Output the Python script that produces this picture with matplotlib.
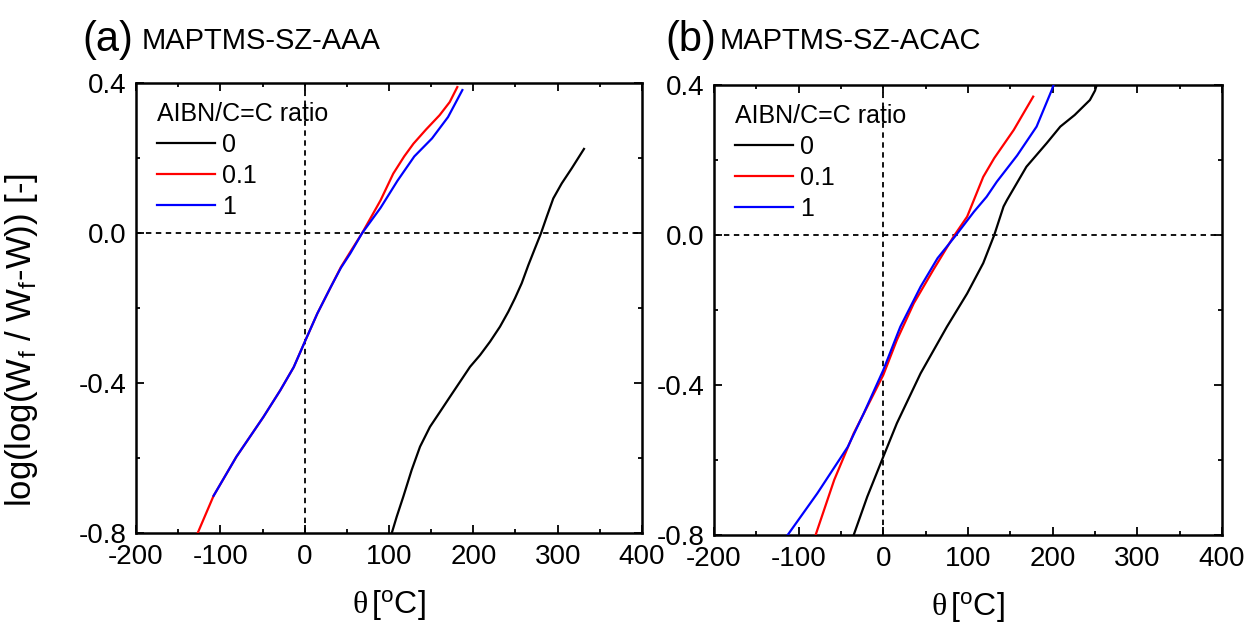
import matplotlib
matplotlib.use("Agg")
import matplotlib.pyplot as plt
from matplotlib.ticker import MultipleLocator, FormatStrFormatter

REG = ['Liberation Sans', 'DejaVu Sans']

plt.rcParams['font.family'] = REG
plt.rcParams['axes.unicode_minus'] = False
plt.rcParams['mathtext.fontset'] = 'custom'
plt.rcParams['mathtext.rm'] = 'Liberation Sans'
plt.rcParams['mathtext.it'] = 'Liberation Serif'
plt.rcParams['mathtext.default'] = 'rm'

# ---------------- data ----------------
panel_letters = ["(a)", "(b)"]
panel_names = ["MAPTMS-SZ-AAA", "MAPTMS-SZ-ACAC"]
legend_title = "AIBN/C=C ratio"
series_labels = ["0", "0.1", "1"]
series_colors = ["black", "red", "blue"]

# Panel (a)
a_r0_x = [103.2, 109.1, 117.0, 126.9, 136.8, 148.6, 160.5, 172.3, 184.2, 196.1,
          207.9, 219.8, 231.6, 241.5, 249.4, 257.4, 265.2, 273.1, 280.2, 287.0,
          294.8, 304.8, 316.6, 331.2]
a_r0_y = [-0.800, -0.756, -0.702, -0.631, -0.569, -0.516, -0.476, -0.436, -0.396,
          -0.356, -0.325, -0.289, -0.249, -0.209, -0.173, -0.133, -0.085, -0.040,
          0.000, 0.044, 0.093, 0.133, 0.173, 0.225]
a_r01_x = [-127, -108, -81, -49, -29, -13, 1, 15, 31, 43, 54, 68, 90, 105, 118,
           129, 144, 160, 172, 181]
a_r01_y = [-0.80, -0.70, -0.596, -0.49, -0.419, -0.357, -0.285, -0.214, -0.143,
           -0.090, -0.050, 0.0, 0.088, 0.159, 0.205, 0.239, 0.277, 0.315, 0.35, 0.39]
a_r1_x = [-108, -81, -49, -29, -13, 1, 15, 31, 43, 54, 68, 90, 110, 130, 151,
          170, 187]
a_r1_y = [-0.70, -0.596, -0.49, -0.419, -0.357, -0.285, -0.214, -0.143, -0.092,
          -0.054, 0.0, 0.068, 0.14, 0.205, 0.253, 0.31, 0.382]

# Panel (b)
b_r0_x = [-35, -19, 0, 16, 44, 75, 99, 118, 131, 142, 146, 169, 193, 209, 226,
          244, 250, 252]
b_r0_y = [-0.80, -0.698, -0.591, -0.502, -0.369, -0.245, -0.156, -0.075, 0.0,
          0.076, 0.093, 0.182, 0.245, 0.289, 0.32, 0.36, 0.385, 0.40]
b_r01_x = [-80, -58, -35, -15, 0, 16, 36, 59, 83, 99, 118, 131, 154, 177]
b_r01_y = [-0.80, -0.653, -0.529, -0.44, -0.373, -0.28, -0.182, -0.093, -0.004,
           0.049, 0.155, 0.205, 0.28, 0.369]
b_r1_x = [-113, -78, -42, -23, 0, 20, 44, 64, 86, 107, 122, 134, 158, 181, 199, 201]
b_r1_y = [-0.80, -0.689, -0.565, -0.475, -0.36, -0.245, -0.138, -0.062, 0.0,
          0.062, 0.102, 0.142, 0.212, 0.289, 0.387, 0.40]

panels = [
    [(a_r0_x, a_r0_y), (a_r01_x, a_r01_y), (a_r1_x, a_r1_y)],
    [(b_r0_x, b_r0_y), (b_r01_x, b_r01_y), (b_r1_x, b_r1_y)],
]

x_ticks = [-200, -100, 0, 100, 200, 300, 400]
y_ticks = [-0.8, -0.4, 0.0, 0.4]

# ---------------- figure ----------------
W, H = 1250, 631
fig = plt.figure(figsize=(W / 100, H / 100), dpi=100)

ax_rects = [
    [136 / W, 1 - 533.3 / H, 506 / W, 450 / H],
    [714 / W, 1 - 535 / H, 508 / W, 450 / H],
]
title_x = [(82, 142), (665, 720)]

for i, rect in enumerate(ax_rects):
    ax = fig.add_axes(rect)
    ax.axhline(0, color='black', lw=1.3, ls=(0, (3, 2.5)), zorder=1)
    ax.axvline(0, color='black', lw=1.3, ls=(0, (3, 2.5)), zorder=1)
    for (xs, ys), lab, col in zip(panels[i], series_labels, series_colors):
        ax.plot(xs, ys, color=col, lw=1.6, label=lab, zorder=3,
                solid_joinstyle='round')
    ax.set_xlim(-200, 400)
    ax.set_ylim(-0.8, 0.4)
    ax.set_xticks(x_ticks)
    ax.set_yticks(y_ticks)
    ax.xaxis.set_minor_locator(MultipleLocator(50))
    ax.yaxis.set_minor_locator(MultipleLocator(0.2))
    ax.yaxis.set_major_formatter(FormatStrFormatter('%.1f'))
    ax.tick_params(which='both', direction='in', top=True, right=True, width=1.3)
    ax.tick_params(which='major', length=5.5, labelsize=20, pad=8)
    ax.tick_params(which='minor', length=3)
    ax.tick_params(axis='y', which='major', pad=7)
    for sp in ax.spines.values():
        sp.set_linewidth(1.8)
    ax.set_xlabel(r"$\mathit{\theta}\,$[$^{\rm o}$C]", fontsize=23, labelpad=13)
    if i == 0:
        ax.set_ylabel(r"log(log(W$_f$ / W$_f$-W)) [-]", fontsize=25)
        ax.yaxis.set_label_coords(-0.19, 0.43)
    leg = ax.legend(title=legend_title, loc='upper left', bbox_to_anchor=(0.042, 0.958),
                    frameon=False, handlelength=2.3, handletextpad=0.3,
                    labelspacing=0.28, borderpad=0, borderaxespad=0,
                    alignment='left', prop={'family': REG, 'size': 18},
                    title_fontproperties={'family': REG, 'size': 18})
    for line in leg.get_lines():
        line.set_linewidth(1.6)
    lx, nx = title_x[i]
    fig.text(lx / W, 1 - 51 / H, panel_letters[i], fontsize=30,
             ha='left', va='baseline')
    fig.text(nx / W, 1 - 49 / H, panel_names[i], fontsize=21,
             ha='left', va='baseline')

fig.savefig("out.png", dpi=100)
